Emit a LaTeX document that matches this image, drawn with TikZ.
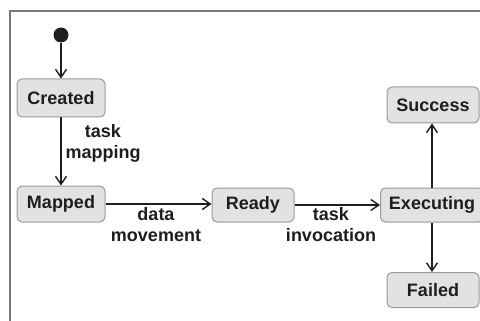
\documentclass[tikz,border=0pt]{standalone}
\usepackage{fontspec}
\setmainfont{Liberation Sans}
\usetikzlibrary{arrows.meta}
\definecolor{boxfill}{HTML}{E2E2E4}
\definecolor{boxline}{HTML}{9A9A9A}
\definecolor{ink}{HTML}{1E1E1E}
\definecolor{framegray}{HTML}{7A7A7A}
\tikzset{
  state/.style={draw=boxline, line width=1pt, fill=boxfill, rounded corners=5pt,
    font=\fontsize{18}{21}\selectfont\bfseries, text=ink, inner sep=0pt,
    minimum height=36pt},
  trans/.style={draw=ink, line width=1.4pt,
    -{Straight Barb[length=8pt,width=11pt,line width=1.4pt]}},
  lbl/.style={font=\fontsize{18}{21}\selectfont\bfseries, text=ink,
    align=center, inner sep=0pt},
  initdot/.style={circle, fill=ink, inner sep=0pt, minimum size=15pt}
}
\begin{document}
\begin{tikzpicture}[x=1pt,y=-1pt]
  \useasboundingbox (0,0) rectangle (480,321);
  % enclosing frame, running off the right and bottom edges
  \draw[framegray, line width=1.5pt] (490,11) -- (10,11) -- (10,330);

  \node[initdot] (init) at (61,35) {};
  \node[state, minimum width=88pt, minimum height=38pt] (created) at (61,98) {Created};
  \node[state, minimum width=88pt] (mapped) at (61,204) {Mapped};
  \node[state, minimum width=82pt, minimum height=34pt] (ready) at (253,205) {Ready};
  \node[state, minimum width=103pt, minimum height=34pt] (exec) at (432,205) {Executing};
  \node[state, minimum width=92pt] (success) at (433,105) {Success};
  \node[state, minimum width=92pt, minimum height=35pt] (failed) at (433,290) {Failed};

  \draw[trans] (init) -- (created);
  \draw[trans] (created) -- (mapped);
  \draw[trans] (mapped.east |- 0,204) -- (ready.west |- 0,204);
  \draw[trans] (ready.east |- 0,205) -- (exec.west |- 0,205);
  \draw[trans] (exec.north -| 432,0) -- (success.south -| 432,0);
  \draw[trans] (exec.south -| 432,0) -- (failed.north -| 432,0);

  \node[lbl] (lmap) at (103,143) {task\\mapping};
  \node[lbl] (lmove) at (156,225) {data\\movement};
  \node[lbl] (linv) at (331,225) {task\\invocation};
\end{tikzpicture}
\end{document}
